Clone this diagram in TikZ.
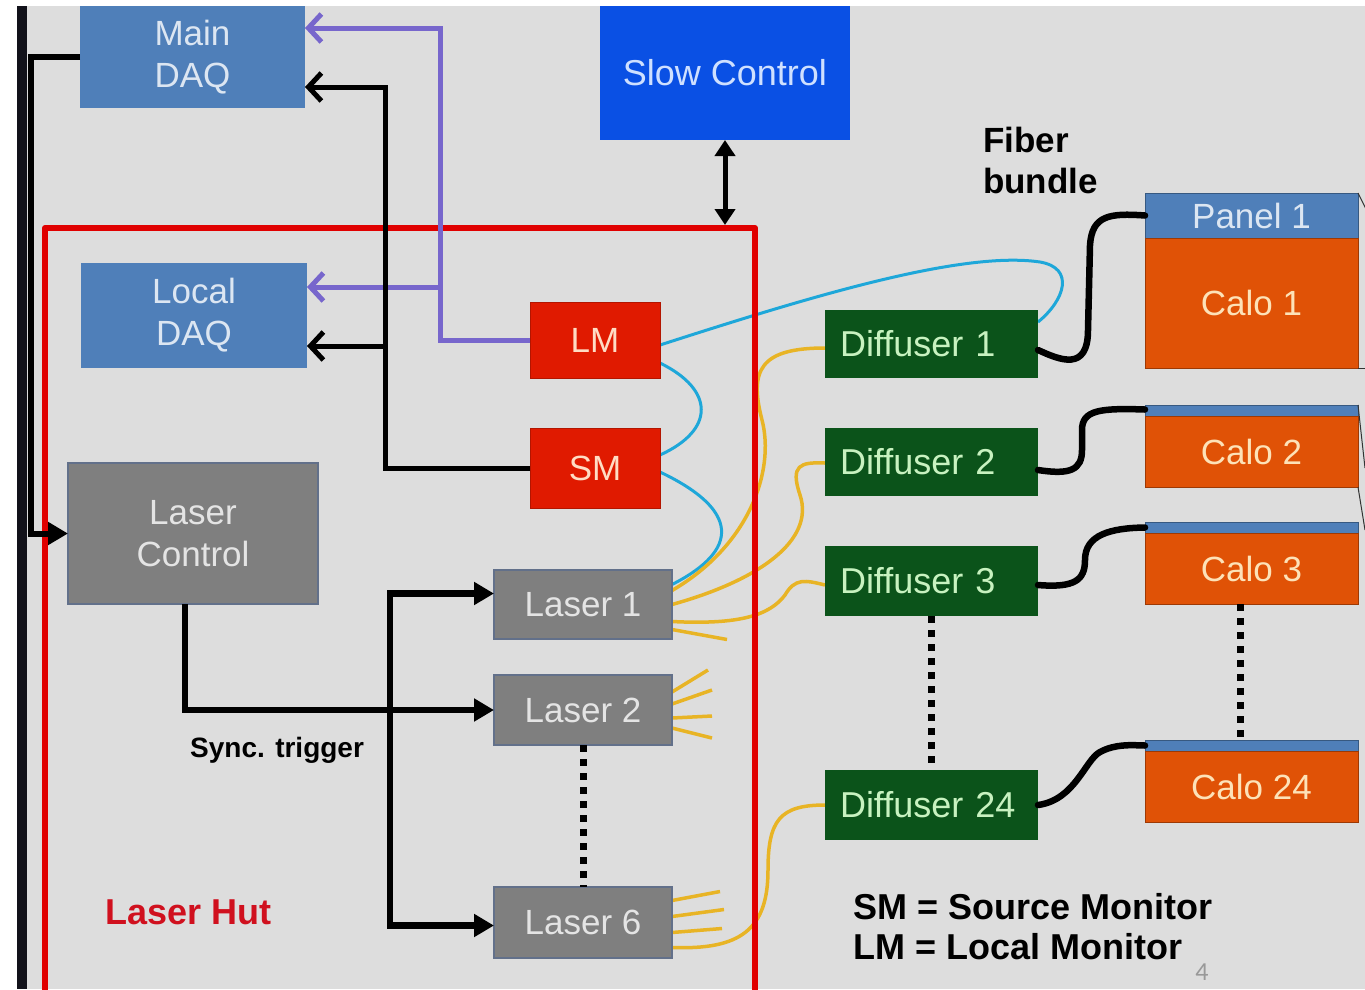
\documentclass[tikz,border=0pt]{standalone}
\usepackage{fontspec}
\setmainfont{Liberation Sans}
\newfontfamily\pagenumfont{Carlito}
\usetikzlibrary{arrows.meta,calc}

\definecolor{bg}{HTML}{DDDDDD}
\definecolor{daqblue}{HTML}{4F7FB9}
\definecolor{daqtext}{HTML}{DCE6F2}
\definecolor{scblue}{HTML}{0A50E4}
\definecolor{sctext}{HTML}{CFE0FF}
\definecolor{monred}{HTML}{E01A00}
\definecolor{montext}{HTML}{FFDCC4}
\definecolor{lasgrey}{HTML}{7F7F7F}
\definecolor{lasedge}{HTML}{62708A}
\definecolor{lastext}{HTML}{E4E4E4}
\definecolor{diffgreen}{HTML}{0B531A}
\definecolor{difftext}{HTML}{C8F2C0}
\definecolor{caloorange}{HTML}{E05206}
\definecolor{calotext}{HTML}{FDE2B8}
\definecolor{hutred}{HTML}{E00000}
\definecolor{labelred}{HTML}{D0101E}
\definecolor{purp}{HTML}{7766CC}
\definecolor{fibcyan}{HTML}{1EA7D9}
\definecolor{fibyellow}{HTML}{E8B425}
\definecolor{barblack}{HTML}{12121A}

\pgfdeclarelayer{back}
\pgfdeclarelayer{fibres}
\pgfdeclarelayer{walls}
\pgfsetlayers{back,fibres,walls,main}

\tikzset{
  box/.style={inner sep=0pt, outer sep=0pt, align=center, font=\fontsize{35}{42}\selectfont},
  daq/.style={box, fill=daqblue, text=daqtext},
  ctrl/.style={box, fill=scblue, text=sctext},
  mon/.style={box, fill=monred, draw=monred!80!black, line width=0.8pt, text=montext},
  laser/.style={box, fill=lasgrey, draw=lasedge, line width=1.2pt, text=lastext},
  diff/.style={box, fill=diffgreen, text=difftext, font=\fontsize{36}{42}\selectfont,
               text width=183pt, align=left},
  calo/.style={box, fill=caloorange, draw=caloorange!70!black, line width=1pt, text=calotext},
  panel/.style={box, fill=daqblue, draw=daqblue!70!black, line width=1pt, text=daqtext},
  sig/.style={line width=5pt},
  purpline/.style={sig, draw=purp},
  blackline/.style={sig, draw=black},
  barb/.style={-{Straight Barb[length=13pt,width=28pt,line width=5pt]}},
  trig/.style={line width=6.5pt, draw=black},
  tri/.style={-{Triangle[length=20pt,width=22pt]}},
  bitri/.style={{Triangle[length=20pt,width=22pt]}-{Triangle[length=20pt,width=22pt]}},
  cyanfib/.style={line width=3pt, draw=fibcyan},
  yelfib/.style={line width=3.5pt, draw=fibyellow},
  bundle/.style={line width=6.5pt, draw=black, line cap=round},
  sqdots/.style={line width=7pt, draw=black, dash pattern=on 7pt off 7pt},
  lbl/.style={inner sep=0pt, font=\bfseries\fontsize{36}{40}\selectfont, align=left}
}

\begin{document}
\begin{tikzpicture}[x=1pt,y=-1pt]
\useasboundingbox (0,0) rectangle (1365,989);
\clip (0,0) rectangle (1365,989);

\begin{pgfonlayer}{back}
  \fill[white] (0,0) rectangle (1365,989);
  \fill[bg] (17,6) rectangle (1365,989);
  \fill[barblack] (17,6) rectangle (27,989);
\end{pgfonlayer}

% ---------- boxes ----------
\node[daq, minimum width=225pt, minimum height=102pt] (maindaq) at (192.5,57) {Main\\DAQ};
\node[daq, minimum width=226pt, minimum height=105pt] (localdaq) at (194,315.5) {Local\\DAQ};
\node[ctrl, minimum width=250pt, minimum height=134pt, font=\fontsize{36}{42}\selectfont] (slow) at (725,73) {Slow Control};
\node[mon, minimum width=130pt, minimum height=76pt] (lm) at (595,340) {LM};
\node[mon, minimum width=130pt, minimum height=80pt] (sm) at (595,468) {SM};
\node[laser, minimum width=250pt, minimum height=141pt] (lasercontrol) at (193,533.5) {Laser\\Control};
\node[laser, minimum width=178pt, minimum height=69pt] (laser1) at (583,604.5) {Laser 1};
\node[laser, minimum width=178pt, minimum height=70pt] (laser2) at (583,710) {Laser 2};
\node[laser, minimum width=178pt, minimum height=71pt] (laser6) at (583,922.5) {Laser 6};

\node[diff, minimum width=213pt, minimum height=68pt] (diff1) at (931.5,344) {Diffuser 1};
\node[diff, minimum width=213pt, minimum height=68pt] (diff2) at (931.5,462) {Diffuser 2};
\node[diff, minimum width=213pt, minimum height=70pt] (diff3) at (931.5,581) {Diffuser 3};
\node[diff, minimum width=213pt, minimum height=70pt] (diff24) at (931.5,805) {Diffuser 24};

\node[panel, minimum width=213pt, minimum height=45pt] (panel1) at (1251.5,215.5) {Panel 1};
\node[calo, minimum width=213pt, minimum height=130pt] (calo1) at (1251.5,303) {Calo 1};
\node[panel, minimum width=213pt, minimum height=11pt] (strip2) at (1251.5,410.5) {};
\node[calo, minimum width=213pt, minimum height=71pt] (calo2) at (1251.5,451.5) {Calo 2};
\node[panel, minimum width=213pt, minimum height=11pt] (strip3) at (1251.5,527.5) {};
\node[calo, minimum width=213pt, minimum height=71pt] (calo3) at (1251.5,568.5) {Calo 3};
\node[panel, minimum width=213pt, minimum height=11pt] (strip24) at (1251.5,745.5) {};
\node[calo, minimum width=213pt, minimum height=71pt] (calo24) at (1251.5,786.5) {Calo 24};

% ---------- laser hut enclosure ----------
\coordinate (huttop) at (725,225);
\begin{pgfonlayer}{walls}
  \draw[hutred, line width=6pt, line join=round] (45,228) rectangle (755,995);
\end{pgfonlayer}

% ---------- optical fibres ----------
\begin{pgfonlayer}{fibres}
  % monitor fibres
  \draw[cyanfib] ($(lm.east)+(0,5)$) .. controls (800,300) and (960,250) .. (1040,262)
        .. controls (1075,268) and (1065,300) .. ($(diff1.east)+(0,-22)$);
  \draw[cyanfib] ($(lm.east)+(0,23)$) .. controls (715,390) and (715,430) .. ($(sm.east)+(0,-13)$);
  \draw[cyanfib] ($(sm.east)+(0,4)$) .. controls (740,510) and (740,550) .. ($(laser1.east)+(0,-20)$);
  % laser 1 fan-out
  \draw[yelfib] ($(laser1.east)+(0,-14)$) .. controls (750,545) and (775,470) .. (762,420)
        .. controls (749,370) and (760,348) .. ($(diff1.west)+(0,4)$);
  \draw[yelfib] (laser1.east) .. controls (760,580) and (815,540) .. (800,495)
        .. controls (790,465) and (800,462) .. ($(diff2.west)+(0,1)$);
  \draw[yelfib] ($(laser1.east)+(0,17)$) .. controls (740,625) and (770,615) .. (785,595)
        .. controls (795,578) and (805,580) .. ($(diff3.west)+(0,4)$);
  \draw[yelfib] ($(laser1.east)+(0,25)$) -- ++(55,10);
  % laser 2 fan-out
  \draw[yelfib] ($(laser2.east)+(0,-18)$) -- ++(36,-22);
  \draw[yelfib] ($(laser2.east)+(0,-6)$) -- ++(40,-14);
  \draw[yelfib] ($(laser2.east)+(0,8)$) -- ++(40,-2);
  \draw[yelfib] ($(laser2.east)+(0,18)$) -- ++(40,10);
  % laser 6 fan-out
  \draw[yelfib] ($(laser6.east)+(0,-22)$) -- ++(48,-9);
  \draw[yelfib] ($(laser6.east)+(0,-6)$) -- ++(52,-7);
  \draw[yelfib] ($(laser6.east)+(0,10)$) -- ++(50,-4);
  \draw[yelfib] ($(laser6.east)+(0,25)$) .. controls (740,950) and (768,930) .. (768,870)
        .. controls (768,820) and (780,805) .. (diff24.west);
\end{pgfonlayer}

% fibre bundles to the calorimeters
\draw[bundle] ($(diff1.east)+(0,6)$) .. controls (1060,360) and (1088,372) .. (1088,330)
      -- (1090,245) .. controls (1092,215) and (1110,213) .. (panel1.west);
\draw[bundle] ($(diff2.east)+(0,8)$) .. controls (1070,475) and (1082,470) .. (1082,450)
      -- (1082,430) .. controls (1082,410) and (1100,408) .. ($(strip2.west)+(0,-1)$);
\draw[bundle] ($(diff3.east)+(0,4)$) .. controls (1075,588) and (1085,580) .. (1085,560)
      .. controls (1085,535) and (1110,528) .. (strip3.west);
\draw[bundle] (diff24.east) .. controls (1075,800) and (1085,760) .. (1100,752)
      .. controls (1115,744) and (1130,745) .. (strip24.west);

% edges of the detector ring beyond the margin
\draw[black!80, line width=1pt] (panel1.north east) -- ++(8,16);
\draw[black!80, line width=1pt] (calo1.south east) -- ++(8,0);
\draw[black!80, line width=1pt] (strip2.north east) -- (1365,468);
\draw[black!80, line width=1pt] (calo2.south east) -- (1365,530);

% ellipsis between repeated units
\draw[sqdots] (laser2.south) -- (laser6.north);
\draw[sqdots] (diff3.south) -- (diff24.north);
\draw[sqdots] (calo3.south -| 1240,0) -- (strip24.north -| 1240,0);

% ---------- data and control links ----------
\coordinate (pj) at (440,28);
\coordinate (pb) at (440,287);
\draw[purpline, barb] (lm.west) -| (pj) -- (maindaq.east |- pj);
\draw[purpline, barb] (pb) -- (localdaq.east |- pb);

\coordinate (bj) at (385,87);
\coordinate (bb) at (385,346);
\draw[blackline, barb] (sm.west) -| (bj) -- (maindaq.east |- bj);
\draw[blackline, barb] (bb) -- (localdaq.east |- bb);

\coordinate (mj) at (31,57);
\draw[line width=6pt, tri] (maindaq.west) -- (mj) |- (lasercontrol.west);

\draw[line width=5pt, {Triangle[length=16pt,width=20pt]}-{Triangle[length=16pt,width=20pt]}]
      (slow.south) -- (huttop);

% synchronisation trigger
\coordinate (tx) at (390,760);
\draw[trig, tri] ([xshift=-8pt]lasercontrol.south) |- (laser2.west);
\draw[trig, bitri] ($(laser1.west)+(0,-11)$) -| (tx) |- ($(laser6.west)+(0,3)$);

% ---------- labels ----------
\node[lbl, font=\bfseries\fontsize{35}{41}\selectfont, anchor=west] (fiberlbl) at (983,160) {Fiber\\bundle};
\node[lbl, font=\bfseries\fontsize{28}{32}\selectfont, anchor=west] (synclbl) at (190,750) {Sync. trigger};
\node[lbl, text=labelred, anchor=west] (hutlbl) at (105,912) {Laser Hut};
\node[lbl, anchor=west] (legend) at (853,927) {SM = Source Monitor\\LM = Local Monitor};
\node[inner sep=0pt, font=\pagenumfont\fontsize{26}{26}\selectfont, text=black!40] (pagenum) at (1202,972) {4};
\end{tikzpicture}
\end{document}
